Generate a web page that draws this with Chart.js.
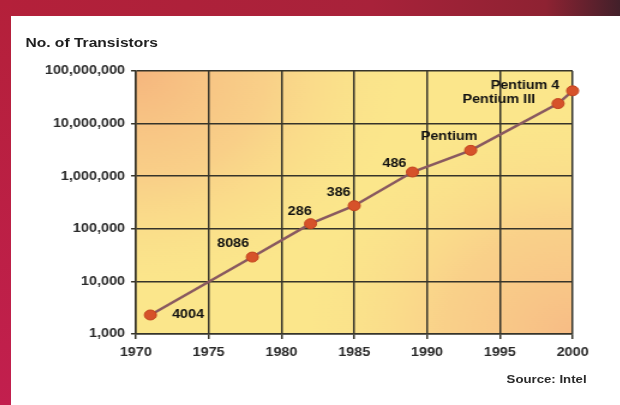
<!DOCTYPE html>
<html>
<head>
<meta charset="utf-8">
<script src="https://cdn.jsdelivr.net/npm/chart.js@4/dist/chart.umd.min.js"></script>
<style>
  html, body { margin: 0; padding: 0; background: #fff; }
  body { width: 620px; height: 405px; position: relative; overflow: hidden; font-family: "Liberation Sans", Arial, sans-serif; }
  #bar-top { position: absolute; left: 0; top: 0; width: 620px; height: 16px;
    background: linear-gradient(to right, #b4203a 0%, #a8223a 60%, #8e2232 88%, #42202a 100%); }
  #bar-left { position: absolute; left: 0; top: 0; width: 11px; height: 405px;
    background: linear-gradient(to bottom, #b4203a 0%, #c21f4e 100%); }
  /* the source picture is stretched sideways, so the whole panel is too */
  #panel { position: absolute; left: 11px; top: 16px; width: 508px; height: 389px;
    transform: scaleX(1.2); transform-origin: 0 0; }
  #chart { position: absolute; left: 0; top: 0; }
  #title { position: absolute; left: 12px; top: 19px; font-weight: bold; font-size: 13px; color: #1e1e1e; }
  #source { position: absolute; left: 413px; top: 357px; font-weight: bold; font-size: 11px; color: #2a2a2a; }
</style>
</head>
<body>
<div id="bar-top"></div>
<div id="bar-left"></div>
<div id="panel">
  <canvas id="chart" width="508" height="389"></canvas>
  <div id="title">No. of Transistors</div>
  <div id="source">Source: Intel</div>
</div>
<script>
const chips = ['4004', '8086', '286', '386', '486', 'Pentium', 'Pentium III', 'Pentium 4'];
const years = [1971, 1978, 1982, 1985, 1989, 1993, 1999, 2000];
const transistors = [2300, 29000, 125000, 275000, 1200000, 3100000, 24000000, 42000000];
const yTicks = [1000, 10000, 100000, 1000000, 10000000, 100000000];
const xTicks = [1970, 1975, 1980, 1985, 1990, 1995, 2000];

// label placement next to each point: [dx, dy, align]
const labelPos = [
    [18, 0, 'left'], [-16, -13, 'center'], [-9, -12, 'center'], [-13, -13, 'center'],
    [-15, -8, 'center'], [-18, -14, 'center'], [-19, -4, 'right'], [-11, -5, 'right']
];

const gridColor = '#36342a';

const plotBackground = {
    id: 'plotBackground',
    beforeDraw(chart) {
        const { ctx, chartArea: a } = chart;
        const w = a.right - a.left, h = a.bottom - a.top;
        ctx.save();
        ctx.fillStyle = '#fbe68b';
        ctx.fillRect(a.left, a.top, w, h);

        let g = ctx.createRadialGradient(a.left, a.top, 0, a.left, a.top, w * 0.6);
        g.addColorStop(0, 'rgba(246,182,126,1)');
        g.addColorStop(0.5, 'rgba(248,196,135,0.65)');
        g.addColorStop(1, 'rgba(250,220,140,0)');
        ctx.fillStyle = g;
        ctx.fillRect(a.left, a.top, w, h);

        g = ctx.createRadialGradient(a.right, a.bottom, 0, a.right, a.bottom, w * 0.6);
        g.addColorStop(0, 'rgba(247,188,133,1)');
        g.addColorStop(0.5, 'rgba(249,200,137,0.7)');
        g.addColorStop(1, 'rgba(250,220,140,0)');
        ctx.fillStyle = g;
        ctx.fillRect(a.left, a.top, w, h);
        ctx.restore();
    }
};

const pointLabels = {
    id: 'pointLabels',
    afterDatasetsDraw(chart) {
        const { ctx } = chart;
        const pts = chart.getDatasetMeta(0).data;
        ctx.save();
        ctx.font = 'bold 12px "Liberation Sans", Arial, sans-serif';
        ctx.fillStyle = '#111';
        ctx.textBaseline = 'middle';
        pts.forEach((p, i) => {
            const [dx, dy, align] = labelPos[i];
            ctx.textAlign = align;
            ctx.fillText(chips[i], p.x + dx, p.y + dy);
        });
        ctx.restore();
    }
};

new Chart(document.getElementById('chart'), {
    type: 'line',
    data: {
        datasets: [{
            data: years.map((y, i) => ({ x: y, y: transistors[i] })),
            borderColor: '#8a5a60',
            borderWidth: 2.5,
            pointBackgroundColor: '#d6522a',
            pointBorderColor: '#c4441f',
            pointBorderWidth: 1,
            pointRadius: 5,
            tension: 0,
            clip: false
        }]
    },
    options: {
        responsive: false,
        animation: false,
        layout: { padding: { left: 0, right: 40, top: 55, bottom: 41 } },
        plugins: { legend: { display: false }, tooltip: { enabled: false } },
        scales: {
            x: {
                type: 'linear',
                min: 1970,
                max: 2000,
                afterBuildTicks: axis => { axis.ticks = xTicks.map(v => ({ value: v })); },
                afterFit: axis => { axis.height = 30; },
                grid: { color: gridColor, lineWidth: 1.5, tickLength: 5 },
                border: { color: gridColor, width: 1.5 },
                ticks: {
                    padding: 6,
                    color: '#2a2a2a',
                    font: { family: '"Liberation Sans", Arial, sans-serif', size: 12, weight: 'bold' },
                    callback: v => String(v)
                }
            },
            y: {
                type: 'logarithmic',
                min: 1000,
                max: 100000000,
                afterBuildTicks: axis => { axis.ticks = yTicks.map(v => ({ value: v })); },
                afterFit: axis => { axis.width = 104; },
                grid: { color: gridColor, lineWidth: 1.5, tickLength: 4 },
                border: { color: gridColor, width: 1.5 },
                ticks: {
                    padding: 5,
                    color: '#2a2a2a',
                    font: { family: '"Liberation Sans", Arial, sans-serif', size: 12, weight: 'bold' },
                    callback: v => Number(v).toLocaleString('en-US')
                }
            }
        }
    },
    plugins: [plotBackground, pointLabels]
});
</script>
</body>
</html>
